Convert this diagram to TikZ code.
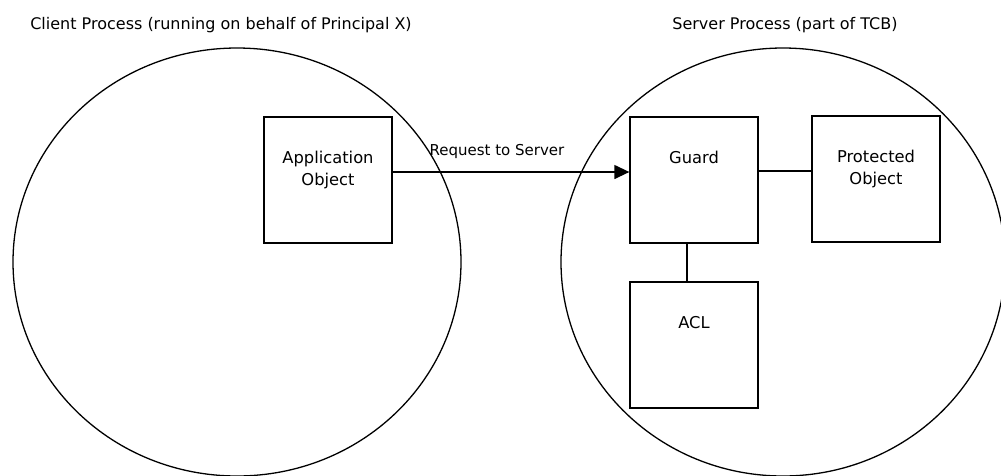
\documentclass[tikz,border=0pt]{standalone}
\usepackage{fontspec}
\setmainfont{DejaVu Sans}
\usetikzlibrary{arrows.meta,positioning}

\begin{document}
\begin{tikzpicture}[x=1pt,y=-1pt,
   procbox/.style={draw=black,line width=1.3pt,minimum width=128pt,minimum height=126pt,inner sep=0pt},
   boxtext/.style={anchor=north,align=center,inner sep=0pt,font=\fontsize{16.3}{22}\selectfont},
   title/.style={inner sep=0pt,font=\fontsize{16}{19}\selectfont},
   wire/.style={draw=black,line width=1.3pt}]
   \clip (0,0) rectangle (1001,475);
   % the two processes
   \draw[line width=1.3pt] (237,262) ellipse [x radius=224pt,y radius=214pt];
   \draw[line width=1.3pt] (783,262) ellipse [x radius=222pt,y radius=214pt];
   \node[title] (client) at (221,25) {Client Process (running on behalf of Principal X)};
   \node[title] (server) at (785,25) {Server Process (part of TCB)};
   % boxes
   \node[procbox] (app)   at (328,180) {};
   \node[procbox] (guard) at (694,180) {};
   \node[procbox] (prot)  at (876,179) {};
   \node[procbox] (acl)   at (694,345) {};
   \node[boxtext] (apptext)   at ([yshift=-35pt]app.north)   {Application\\Object};
   \node[boxtext] (guardtext) at ([yshift=-35pt]guard.north) {Guard};
   \node[boxtext] (prottext)  at ([yshift=-35pt]prot.north)  {Protected\\Object};
   \node[boxtext] (acltext)   at ([yshift=-35pt]acl.north)   {ACL};
   % connections
   \draw[wire,-{Triangle[length=15pt,width=14pt]}] ([yshift=8pt]app.east) -- ([yshift=8pt]guard.west)
      node[midway,above=13pt,xshift=-14pt,title,font=\fontsize{15}{18}\selectfont] (req) {Request to Server};
   \draw[wire] ([yshift=9pt]guard.east) -- ([yshift=9pt]guard.east -| prot.west);
   \draw[wire] ([xshift=-7pt]guard.south) -- ([xshift=-7pt]acl.north);
\end{tikzpicture}
\end{document}
